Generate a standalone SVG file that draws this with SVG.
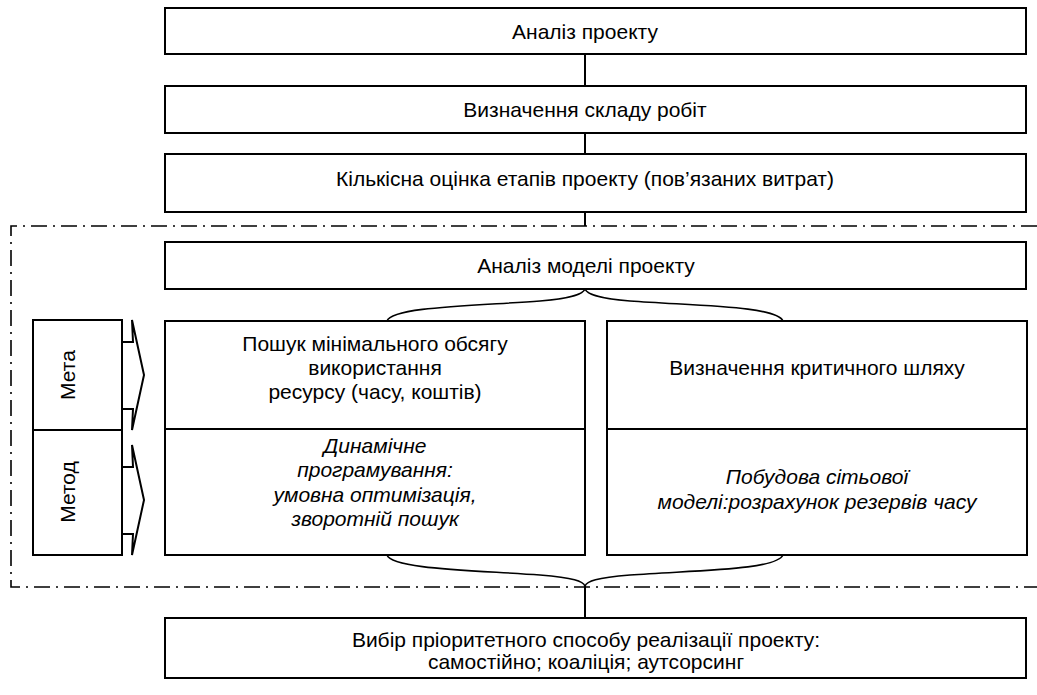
<svg xmlns="http://www.w3.org/2000/svg" width="1037" height="695" viewBox="0 0 1037 695">
<style>
.box{fill:#fff;stroke:#000;stroke-width:2}
.ln{fill:none;stroke:#000;stroke-width:2}
.br{fill:none;stroke:#000;stroke-width:1.6}
.frame{fill:none;stroke:#000;stroke-width:1.6;stroke-dasharray:16 6 2 6}
.t{font-family:"Liberation Sans",Arial,sans-serif;font-size:21px;fill:#000;text-anchor:middle}
.i{font-style:italic}
</style>
<rect width="1037" height="695" fill="#fff"/>
<g id="frame">
<path class="frame" d="M1037,226 H11 V587 H1037"/>
</g>
<g id="connectors">
<line class="ln" x1="585" y1="54" x2="585" y2="86"/>
<line class="ln" x1="585" y1="133" x2="585" y2="154"/>
<line class="ln" x1="585" y1="212" x2="585" y2="226"/>
<path class="br" d="M387,321 C392,307 470,306 540,301 C574,298 583,294 585,289 C587,294 596,298 630,301 C700,306 776,306 783,321"/>
<path class="br" d="M387,555 C392,569 470,570 540,575 C574,578 583,581 585,586 C587,581 596,578 630,575 C700,570 776,570 783,555"/>
<line class="ln" x1="585" y1="586" x2="585" y2="618"/>
<polyline class="ln" points="122,342 133,342 132,320 144,375 132,430 133,409 122,409"/>
<polyline class="ln" points="122,467 133,467 132,445 144,500 132,555 133,534 122,534"/>
</g>
<g id="n1">
<rect class="box" x="165" y="8" width="861" height="46"/>
<text class="t" x="585" y="39">Аналіз проекту</text>
</g>
<g id="n2">
<rect class="box" x="165" y="86" width="861" height="47"/>
<text class="t" x="585" y="117">Визначення складу робіт</text>
</g>
<g id="n3">
<rect class="box" x="165" y="154" width="861" height="58"/>
<text class="t" x="585" y="186">Кількісна оцінка етапів проекту (пов’язаних витрат)</text>
</g>
<g id="n4">
<rect class="box" x="165" y="242" width="861" height="47"/>
<text class="t" x="586" y="273">Аналіз моделі проекту</text>
</g>
<g id="labels">
<rect class="box" x="33" y="320" width="89" height="110"/>
<rect class="box" x="33" y="430" width="89" height="125"/>
<text class="t" transform="translate(75,375) rotate(-90)">Мета</text>
<text class="t" transform="translate(75,492) rotate(-90)">Метод</text>
</g>
<g id="left">
<rect class="box" x="165" y="321" width="420" height="108"/>
<rect class="box" x="165" y="429" width="420" height="126"/>
<text class="t" x="375" y="351">Пошук мінімального обсягу</text>
<text class="t" x="375" y="375">використання</text>
<text class="t" x="375" y="399">ресурсу (часу, коштів)</text>
<text class="t i" x="375" y="453">Динамічне</text>
<text class="t i" x="375" y="477">програмування:</text>
<text class="t i" x="375" y="502">умовна оптимізація,</text>
<text class="t i" x="375" y="526">зворотній пошук</text>
</g>
<g id="right">
<rect class="box" x="607" y="321" width="420" height="108"/>
<rect class="box" x="607" y="429" width="420" height="126"/>
<text class="t" x="817" y="375">Визначення критичного шляху</text>
<text class="t i" x="817" y="484">Побудова сітьової</text>
<text class="t i" x="817" y="509">моделі:розрахунок резервів часу</text>
</g>
<g id="n5">
<rect class="box" x="165" y="618" width="861" height="60"/>
<text class="t" x="586" y="647">Вибір пріоритетного способу реалізації проекту:</text>
<text class="t" x="586" y="669">самостійно; коаліція; аутсорсинг</text>
</g>
</svg>
